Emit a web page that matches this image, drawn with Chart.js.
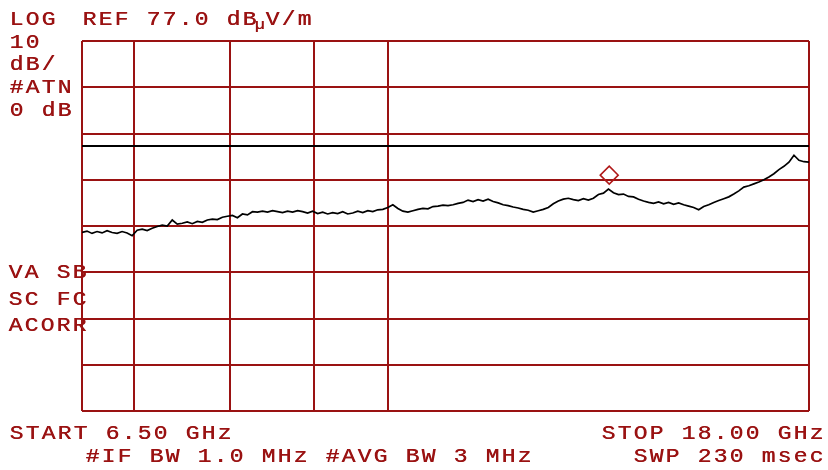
<!DOCTYPE html>
<html>
<head>
<meta charset="utf-8">
<script src="https://cdn.jsdelivr.net/npm/chart.js@4.4.1/dist/chart.umd.min.js"></script>
<style>
  html, body { margin: 0; padding: 0; background: #ffffff; }
  canvas { display: block; }
</style>
</head>
<body>
<canvas id="sa" width="828" height="470"></canvas>
<script>
// sweep settings
const START_GHZ = 6.5;
const STOP_GHZ = 18.0;
const REF_DB = 77.0;

// grid positions (GHz / dBuV/m)
const xGridGHz = [6.5, 7.32, 8.84, 10.17, 11.34, 18.0];
const yGridDb = [-3, 7, 17, 27, 37, 47, 57, 67, 77];

// trace, evenly spaced sweep points
const traceDb = [
  35.6, 35.9, 35.4, 35.8, 35.5, 36.0, 35.6, 35.4, 35.8, 35.5,
  34.9, 36.1, 36.3, 36.0, 36.5, 36.9, 37.2, 37.0, 38.3, 37.4,
  37.6, 37.9, 37.5, 38.0, 37.8, 38.3, 38.5, 38.4, 38.9, 39.1,
  39.3, 38.8, 39.6, 39.4, 40.1, 40.0, 40.2, 40.0, 40.3, 40.1,
  39.9, 40.2, 40.0, 40.3, 40.1, 39.8, 40.2, 39.7, 40.0, 39.6,
  39.9, 39.7, 40.1, 39.6, 39.8, 40.2, 39.9, 40.3, 40.1, 40.5,
  40.6, 41.0, 41.6, 40.8, 40.2, 40.0, 40.3, 40.6, 40.8, 40.7,
  41.2, 41.3, 41.5, 41.4, 41.6, 41.9, 42.1, 42.6, 42.3, 42.7,
  42.4, 42.8, 42.3, 42.0, 41.6, 41.4, 41.1, 40.9, 40.6, 40.4,
  40.0, 40.3, 40.6, 41.0, 41.8, 42.4, 42.8, 43.0, 42.7, 42.5,
  42.9, 42.6, 43.0, 43.8, 44.1, 45.0, 44.2, 43.8, 43.9, 43.4,
  43.3, 42.8, 42.4, 42.1, 41.9, 42.2, 41.8, 42.1, 41.7, 42.0,
  41.6, 41.3, 41.0, 40.5, 41.2, 41.6, 42.1, 42.5, 42.9, 43.3,
  43.9, 44.6, 45.4, 45.7, 46.1, 46.5, 47.0, 47.6, 48.3, 49.2,
  49.9, 50.8, 52.3, 51.2, 50.9, 50.8
];

const limitDb = 54.3;
const markerGHz = 14.84;
const markerDb = 48.0;

// screen annotations: [text, x, baseline]
const labels = [
  ["LOG", 10, 25],
  ["REF 77.0 dB", 83, 25],
  ["V/m", 266, 25],
  ["10", 10, 48],
  ["dB/", 10, 70],
  ["#ATN", 10, 93],
  ["0 dB", 10, 116],
  ["VA SB", 9, 278],
  ["SC FC", 9, 305],
  ["ACORR", 9, 331],
  ["START 6.50 GHz", 10, 439],
  ["STOP 18.00 GHz", 602, 439],
  ["#IF BW 1.0 MHz #AVG BW 3 MHz", 86, 462],
  ["SWP 230 msec", 634, 462]
];

const RED = "#9a1212";
const PITCH = 16;

const step = (STOP_GHZ - START_GHZ) / (traceDb.length - 1);
const tracePts = traceDb.map((v, i) => ({ x: START_GHZ + i * step, y: v }));

function monoText(ctx, text, x, y, size) {
  ctx.font = size + "px 'Liberation Mono', 'DejaVu Sans Mono', monospace";
  ctx.textAlign = "center";
  ctx.textBaseline = "alphabetic";
  for (let i = 0; i < text.length; i++) {
    const ch = text[i];
    if (ch === " ") continue;
    ctx.save();
    ctx.translate(x + i * PITCH + 6.5, y);
    ctx.scale(1.15, 1);
    ctx.fillText(ch, 0, 0);
    // second pass a hair to the right to thicken the strokes
    ctx.fillText(ch, 0.4, 0);
    ctx.restore();
  }
}

const screenText = {
  id: "screenText",
  afterDraw(chart) {
    const ctx = chart.ctx;
    ctx.save();
    ctx.fillStyle = RED;
    labels.forEach(([t, x, y]) => monoText(ctx, t, x, y, 20));
    // subscript micro sign after dB
    monoText(ctx, "\u00b5", 253, 29, 14);
    ctx.restore();
  }
};

new Chart(document.getElementById("sa"), {
  type: "scatter",
  data: {
    datasets: [
      {
        data: tracePts,
        showLine: true,
        borderColor: "#000000",
        borderWidth: 1.7,
        pointRadius: 0,
        tension: 0
      },
      {
        data: [{ x: START_GHZ, y: limitDb }, { x: STOP_GHZ, y: limitDb }],
        showLine: true,
        borderColor: "#000000",
        borderWidth: 2,
        pointRadius: 0
      },
      {
        data: [{ x: markerGHz, y: markerDb }],
        pointStyle: "rectRot",
        pointRadius: 9,
        borderColor: "#b01818",
        borderWidth: 1.5,
        backgroundColor: "rgba(255,255,255,0)"
      }
    ]
  },
  options: {
    responsive: false,
    animation: false,
    layout: { padding: { left: 82, right: 19, top: 41, bottom: 59 } },
    plugins: { legend: { display: false }, tooltip: { enabled: false } },
    scales: {
      x: {
        type: "linear",
        min: START_GHZ,
        max: STOP_GHZ,
        afterBuildTicks: s => { s.ticks = xGridGHz.map(v => ({ value: v })); },
        ticks: { display: false },
        border: { display: false },
        grid: { color: RED, lineWidth: 2, drawTicks: false }
      },
      y: {
        min: REF_DB - 80,
        max: REF_DB,
        afterBuildTicks: s => { s.ticks = yGridDb.map(v => ({ value: v })); },
        ticks: { display: false },
        border: { display: false },
        grid: { color: RED, lineWidth: 2, drawTicks: false }
      }
    }
  },
  plugins: [screenText]
});
</script>
</body>
</html>
